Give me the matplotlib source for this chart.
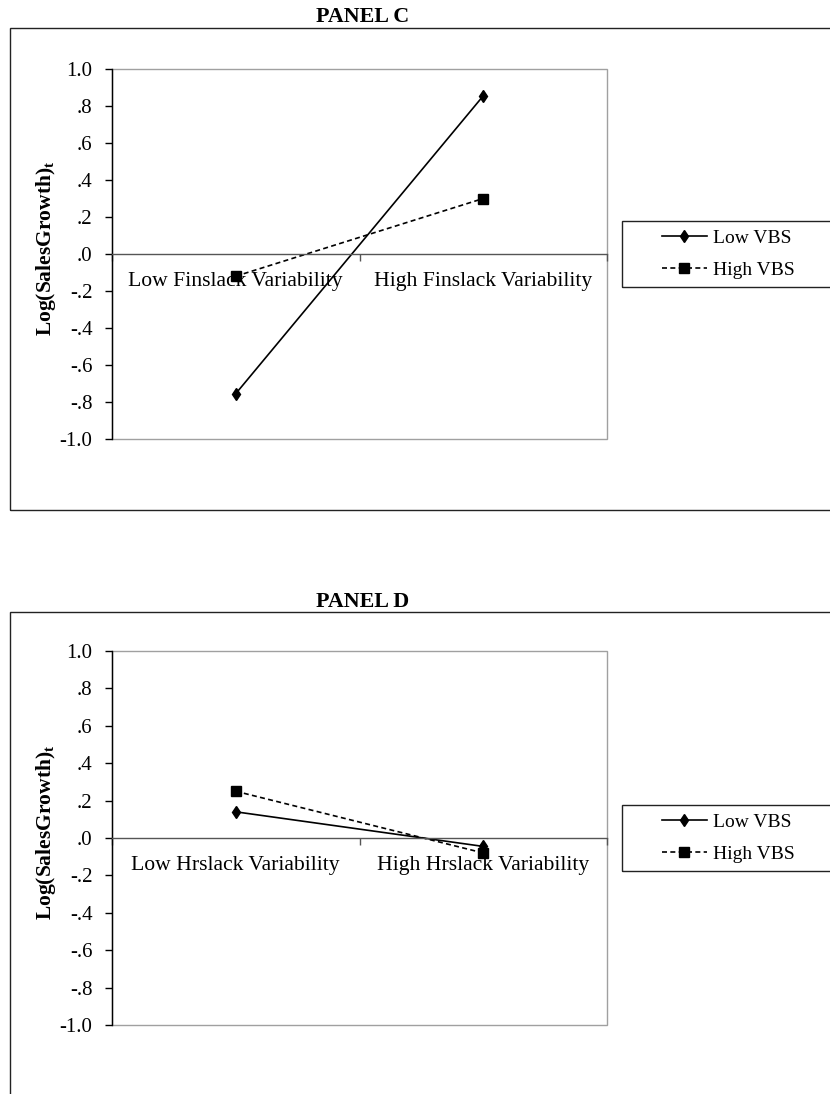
import matplotlib
matplotlib.use("Agg")
import matplotlib.pyplot as plt
from matplotlib.patches import Rectangle

plt.rcParams['font.family'] = ['Liberation Serif', 'DejaVu Serif']
plt.rcParams['mathtext.fontset'] = 'custom'
plt.rcParams['mathtext.rm'] = 'Liberation Serif'
plt.rcParams['mathtext.bf'] = 'Liberation Serif:bold'

# Data
panels = ["PANEL C", "PANEL D"]
categories_c = ["Low Finslack Variability", "High Finslack Variability"]
categories_d = ["Low Hrslack Variability", "High Hrslack Variability"]
low_vbs_c = [-0.755, 0.855]
high_vbs_c = [-0.12, 0.30]
low_vbs_d = [0.14, -0.045]
high_vbs_d = [0.25, -0.08]
series_names = ["Low VBS", "High VBS"]
yticks = [-1.0, -0.8, -0.6, -0.4, -0.2, 0.0, 0.2, 0.4, 0.6, 0.8, 1.0]
ytick_labels = ["-1.0", "-.8", "-.6", "-.4", "-.2", ".0", ".2", ".4", ".6", ".8", "1.0"]

W, H = 830, 1094
fig = plt.figure(figsize=(W / 100, H / 100), dpi=100)


def fx(px):
    return px / W


def fy(py):
    return 1 - py / H


def draw_panel(title, cats, low, high, ax_top, ax_bot, frame_top, frame_bot, title_y):
    # outer panel frame (runs off the right edge like the original)
    fig.add_artist(Rectangle((fx(10), fy(frame_bot)), 1.2, fy(frame_top) - fy(frame_bot),
                             transform=fig.transFigure, fill=False, ec='#222222', lw=1.0))
    fig.text(fx(363), fy(title_y), title, ha='center', va='center',
             fontsize=15.8, fontweight='bold')

    ax = fig.add_axes([fx(112), fy(ax_bot), fx(607) - fx(112), fy(ax_top) - fy(ax_bot)])
    xs = [0.5, 1.5]
    ax.plot(xs, low, color='black', lw=1.2, marker='d', ms=6.5, label=series_names[0])
    ax.plot(xs, high, color='black', lw=1.2, ls=(0, (3, 2)), marker='s', ms=6.5,
            label=series_names[1])
    ax.set_xlim(0, 2)
    ax.set_ylim(-1, 1)

    # plot area border
    ax.add_patch(Rectangle((0, 0), 1, 1, transform=ax.transAxes, fill=False,
                           ec='#a0a0a0', lw=1.0, clip_on=False, zorder=0.5))
    for s in ['top', 'right']:
        ax.spines[s].set_visible(False)
    ax.spines['left'].set_color('black')
    ax.spines['left'].set_linewidth(1.0)
    ax.spines['bottom'].set_position(('data', 0))
    ax.spines['bottom'].set_color('#555555')
    ax.spines['bottom'].set_linewidth(1.0)

    ax.set_yticks(yticks)
    ax.set_yticklabels(ytick_labels, fontsize=15)
    ax.tick_params(axis='y', direction='out', length=5, width=1, pad=9)

    ax.set_xticks([0, 1, 2])
    ax.set_xticklabels([])
    ax.set_xticks(xs, minor=True)
    ax.set_xticklabels(cats, minor=True, fontsize=15.6)
    ax.tick_params(axis='x', which='major', direction='out', length=5, width=1, color='#555555')
    ax.tick_params(axis='x', which='minor', length=0, pad=13)

    ax.set_ylabel(r"Log(SalesGrowth)$_{\mathbf{t}}$", fontsize=15.5, fontweight='bold')
    ax.yaxis.set_label_coords(-0.109, 0.515)

    # legend with a box that runs off the right edge
    yc = (ax_top + ax_bot) / 2
    fig.add_artist(Rectangle((fx(622), fy(yc + 33)), 0.3, fy(yc - 33) - fy(yc + 33),
                             transform=fig.transFigure, fill=False, ec='#222222', lw=1.0))
    fig.legend(handles=ax.get_lines(), loc='center left', bbox_to_anchor=(fx(662), fy(yc)),
               bbox_transform=fig.transFigure, frameon=False, fontsize=14,
               borderpad=0, handlelength=2.3, handletextpad=0.3, labelspacing=0.75,
               borderaxespad=0)
    return ax


draw_panel(panels[0], categories_c, low_vbs_c, high_vbs_c, 69, 439, 28, 510, 17)
draw_panel(panels[1], categories_d, low_vbs_d, high_vbs_d, 651, 1025, 612, 1200, 602)

fig.savefig("out.png", dpi=100)
